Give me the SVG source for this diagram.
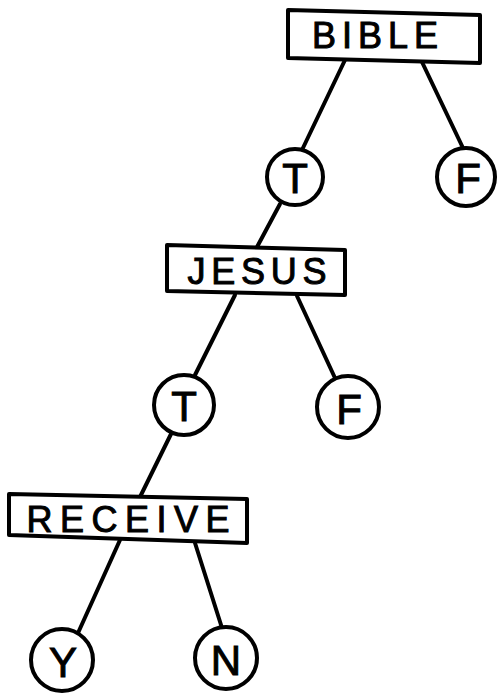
<svg xmlns="http://www.w3.org/2000/svg" width="498" height="693" viewBox="0 0 498 693">
<style>
.box{fill:#fff;stroke:#000;stroke-width:4;stroke-linejoin:round}
.node{fill:#fff;stroke:#000;stroke-width:4}
.lbl{font-family:"Liberation Sans",Arial,sans-serif;font-size:36px;fill:#000;stroke:#000;stroke-width:1;text-anchor:middle;dominant-baseline:central}
.big{font-size:42px}
.edge{stroke:#000;stroke-width:4;stroke-linecap:round;fill:none}
</style>
<rect width="498" height="693" fill="#fff"/>
<g id="connectors">
<line class="edge" x1="345" y1="60" x2="302" y2="150"/>
<line class="edge" x1="422" y1="62" x2="463" y2="148"/>
<line class="edge" x1="280" y1="204" x2="257" y2="247"/>
<line class="edge" x1="235" y1="295" x2="195" y2="375"/>
<line class="edge" x1="297" y1="296" x2="335" y2="378"/>
<line class="edge" x1="172" y1="432" x2="140" y2="497"/>
<line class="edge" x1="120" y1="540" x2="78" y2="633"/>
<line class="edge" x1="195" y1="543" x2="222" y2="628"/>
</g>
<g id="bible"><polygon class="box" points="288,10 480,15 480,63 288,58"/><text class="lbl" x="375" y="35" textLength="126" lengthAdjust="spacing">BIBLE</text></g>
<g id="t1"><circle class="node" cx="295" cy="177" r="28"/><text class="lbl big" x="295" y="178">T</text></g>
<g id="f1"><circle class="node" cx="466" cy="177" r="29"/><text class="lbl big" x="468" y="178">F</text></g>
<g id="jesus"><polygon class="box" points="167,245 345,250 345,295 167,291"/><text class="lbl" x="257" y="271" textLength="139" lengthAdjust="spacing">JESUS</text></g>
<g id="t2"><circle class="node" cx="184" cy="405" r="30"/><text class="lbl big" x="184" y="406">T</text></g>
<g id="f2"><circle class="node" cx="348" cy="407" r="31"/><text class="lbl big" x="349" y="409">F</text></g>
<g id="receive"><polygon class="box" points="9,494 247,499 247,543 9,535"/><text class="lbl" x="128" y="519" textLength="203" lengthAdjust="spacing">RECEIVE</text></g>
<g id="y"><circle class="node" cx="62" cy="660" r="31"/><text class="lbl big" x="63" y="662">Y</text></g>
<g id="n"><circle class="node" cx="226" cy="658" r="31"/><text class="lbl big" x="226" y="660">N</text></g>
</svg>
